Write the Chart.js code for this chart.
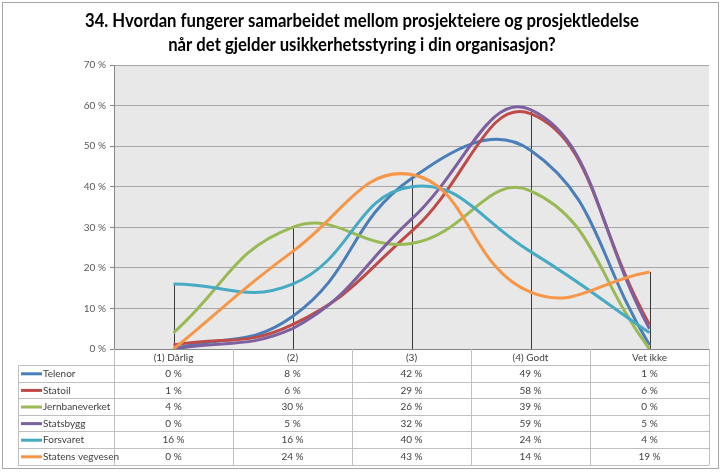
<!DOCTYPE html>
<html>
<head>
<meta charset="utf-8">
<script src="https://cdn.jsdelivr.net/npm/chart.js@4/dist/chart.umd.min.js"></script>
<style>
    html, body { margin: 0; padding: 0; background: #ffffff; }
    canvas { display: block; }
</style>
</head>
<body>
<canvas id="chart" width="721" height="472"></canvas>
<script>
"use strict";

// DATA
const categories = ["(1) Dårlig", "(2)", "(3)", "(4) Godt", "Vet ikke"];
const telenor = [0, 8, 42, 49, 1];
const statoil = [1, 6, 29, 58, 6];
const jernbaneverket = [4, 30, 26, 39, 0];
const statsbygg = [0, 5, 32, 59, 5];
const forsvaret = [16, 16, 40, 24, 4];
const statensVegvesen = [0, 24, 43, 14, 19];
const yTicks = [0, 10, 20, 30, 40, 50, 60, 70];
const titleLines = [
    "34. Hvordan fungerer samarbeidet mellom prosjekteiere og prosjektledelse",
    "når det gjelder usikkerhetsstyring i din organisasjon?"
];

const series = [
    { label: "Telenor", data: telenor, color: "#4a7ebb" },
    { label: "Statoil", data: statoil, color: "#be4b48" },
    { label: "Jernbaneverket", data: jernbaneverket, color: "#98b954" },
    { label: "Statsbygg", data: statsbygg, color: "#7d60a0" },
    { label: "Forsvaret", data: forsvaret, color: "#46aac5" },
    { label: "Statens vegvesen", data: statensVegvesen, color: "#f79646" }
];

const TEXT_FONT = "Lato, 'Noto Sans', sans-serif";
const TABLE_LINE = "#bfbfbf";

// Outer frame, title and plot background
const framePlugin = {
    id: "frame",
    beforeDraw(chart) {
        const { ctx, chartArea } = chart;
        ctx.save();
        ctx.fillStyle = "#ffffff";
        ctx.fillRect(0, 0, chart.width, chart.height);
        ctx.strokeStyle = "#a6a6a6";
        ctx.lineWidth = 1;
        ctx.strokeRect(2.5, 2.5, chart.width - 5, chart.height - 6);
        ctx.fillStyle = "#e8e8e8";
        ctx.fillRect(chartArea.left, chartArea.top, chartArea.width, chartArea.height);

        // title, squeezed to the width of the original
        ctx.font = `bold 18px ${TEXT_FONT}`;
        ctx.fillStyle = "#000000";
        ctx.textAlign = "center";
        ctx.textBaseline = "middle";
        const squeeze = Math.min(1, 554 / ctx.measureText(titleLines[0]).width);
        ctx.translate(362, 0);
        ctx.scale(squeeze, 1);
        ctx.fillText(titleLines[0], 0, 21);
        ctx.fillText(titleLines[1], 0, 45);
        ctx.restore();
    }
};

// Drop lines from the highest point down to the category axis
const dropLinesPlugin = {
    id: "dropLines",
    beforeDatasetsDraw(chart) {
        const { ctx, scales } = chart;
        ctx.save();
        ctx.strokeStyle = "#3a3a3a";
        ctx.lineWidth = 1;
        categories.forEach((cat, i) => {
            const top = Math.max(...series.map((s) => s.data[i]));
            const x = Math.round(scales.x.getPixelForValue(i)) + 0.5;
            ctx.beginPath();
            ctx.moveTo(x, scales.y.getPixelForValue(top));
            ctx.lineTo(x, scales.y.getPixelForValue(0));
            ctx.stroke();
        });
        ctx.restore();
    }
};

// Data table with legend keys under the plot
const dataTablePlugin = {
    id: "dataTable",
    afterDraw(chart) {
        const { ctx, chartArea, scales } = chart;
        const top = chartArea.bottom;
        const headH = 16;
        const rowH = 16.6;
        const legendLeft = 18;
        const left = chartArea.left;
        const right = chartArea.right;
        const bottom = top + headH + rowH * series.length;
        const half = (scales.x.getPixelForValue(1) - scales.x.getPixelForValue(0)) / 2;
        const px = (v) => Math.round(v) + 0.5;

        ctx.save();
        ctx.strokeStyle = TABLE_LINE;
        ctx.lineWidth = 1;
        ctx.beginPath();
        // header row
        ctx.moveTo(left, px(top + headH));
        ctx.lineTo(right, px(top + headH));
        ctx.moveTo(legendLeft, px(top + headH));
        ctx.lineTo(left, px(top + headH));
        for (let r = 1; r <= series.length; r++) {
            const y = px(top + headH + rowH * r);
            ctx.moveTo(legendLeft, y);
            ctx.lineTo(right, y);
        }
        // column borders
        ctx.moveTo(px(legendLeft), px(top + headH));
        ctx.lineTo(px(legendLeft), px(bottom));
        categories.forEach((cat, i) => {
            const x = px(scales.x.getPixelForValue(i) - half);
            ctx.moveTo(x, top);
            ctx.lineTo(x, px(bottom));
        });
        ctx.moveTo(px(right), top);
        ctx.lineTo(px(right), px(bottom));
        ctx.stroke();

        ctx.font = `10px ${TEXT_FONT}`;
        ctx.fillStyle = "#404040";
        ctx.textBaseline = "middle";
        ctx.textAlign = "center";
        categories.forEach((cat, i) => {
            ctx.fillText(cat, scales.x.getPixelForValue(i), top + headH / 2 + 1);
        });

        series.forEach((s, r) => {
            const yMid = top + headH + rowH * r + rowH / 2 + 0.5;
            ctx.strokeStyle = s.color;
            ctx.lineWidth = 3;
            ctx.beginPath();
            ctx.moveTo(21, yMid);
            ctx.lineTo(42, yMid);
            ctx.stroke();
            ctx.textAlign = "left";
            ctx.fillText(s.label, 43, yMid);
            ctx.textAlign = "center";
            s.data.forEach((v, i) => {
                ctx.fillText(`${v} %`, scales.x.getPixelForValue(i), yMid);
            });
        });
        ctx.restore();
    }
};

new Chart(document.getElementById("chart"), {
    type: "line",
    data: {
        labels: categories,
        // later series sit on top, as in the original
        datasets: series.map((s, i) => ({
            label: s.label,
            data: s.data,
            order: -i,
            borderColor: s.color,
            backgroundColor: s.color,
            borderWidth: 3,
            pointRadius: 0,
            tension: 0.45,
            fill: false
        }))
    },
    options: {
        responsive: false,
        animation: false,
        devicePixelRatio: 1,
        layout: {
            padding: { left: 0, right: 12, top: 65, bottom: 123 }
        },
        plugins: {
            legend: { display: false },
            title: { display: false },
            tooltip: { enabled: false }
        },
        scales: {
            x: {
                offset: true,
                ticks: { display: false },
                grid: { display: false, drawTicks: false },
                border: { display: true, color: "#868686" },
                afterFit(scale) {
                    scale.height = 0;
                }
            },
            y: {
                min: 0,
                max: 70,
                afterBuildTicks(scale) {
                    scale.ticks = yTicks.map((v) => ({ value: v }));
                },
                ticks: {
                    padding: 4,
                    color: "#595959",
                    font: { family: TEXT_FONT, size: 10 },
                    callback: (v) => `${v} %`
                },
                grid: {
                    color: "#a6a6a6",
                    tickLength: 4,
                    tickColor: "#868686"
                },
                border: { display: true, color: "#868686" },
                afterFit(scale) {
                    scale.width = 114;
                }
            }
        }
    },
    plugins: [framePlugin, dropLinesPlugin, dataTablePlugin]
});
</script>
</body>
</html>
